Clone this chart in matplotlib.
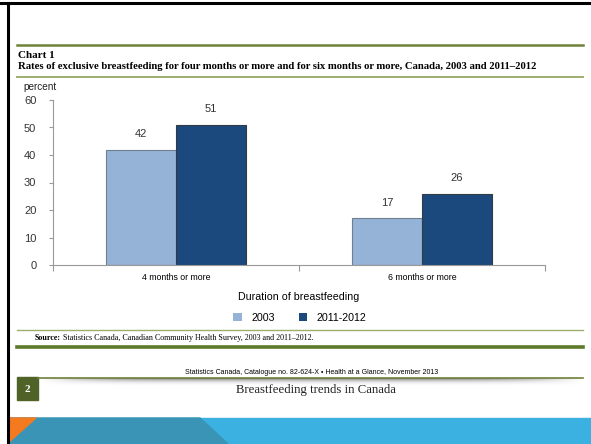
import numpy as np
import matplotlib
matplotlib.use("Agg")
from matplotlib import pyplot as plt
from matplotlib.lines import Line2D
from matplotlib.patches import Polygon, Rectangle

# chart data
categories = ["4 months or more", "6 months or more"]
series_names = ["2003", "2011-2012"]
values_2003 = [42, 17]
values_2011 = [51, 26]
y_ticks = [0, 10, 20, 30, 40, 50, 60]

light_blue = "#95B3D7"
dark_blue = "#1B497D"
green = "#6E8139"
green_light = "#9DAF6F"

W, H = 591, 444
fig = plt.figure(figsize=(W / 100, H / 100), dpi=100)


def fx(px):
    return px / W


def fy(py):
    return 1 - py / H


def hline(y, x0, x1, color, lw):
    fig.add_artist(Line2D([fx(x0), fx(x1)], [fy(y), fy(y)], color=color, lw=lw,
                          transform=fig.transFigure))


# slide frame
fig.add_artist(Line2D([0, 1], [fy(3.5), fy(3.5)], color="black", lw=2.2, transform=fig.transFigure))
fig.add_artist(Line2D([fx(8), fx(8)], [0, fy(3.5)], color="black", lw=2.2, transform=fig.transFigure))

# header
hline(45, 17, 583, green, 1.8)
fig.text(fx(18), fy(56), "Chart 1", family="Liberation Serif", weight="bold", fontsize=8, va="center")
fig.text(fx(18), fy(66.5), "Rates of exclusive breastfeeding for four months or more and for six months or more, "
         "Canada, 2003 and 2011\u20132012", family="Liberation Serif", weight="bold", fontsize=7.7, va="center")
hline(77, 17, 583, green_light, 1.4)
fig.text(fx(23), fy(87), "percent", family="Liberation Sans", fontsize=7.2, va="center", color="#222222")

# chart
ax = fig.add_axes([fx(53), fy(265), fx(545) - fx(53), fy(100) - fy(265)])
x = np.arange(len(categories))
bw = 0.285
b1 = ax.bar(x - bw / 2, values_2003, bw, color=light_blue, edgecolor="#6F7F8F", lw=0.8, label=series_names[0])
b2 = ax.bar(x + bw / 2, values_2011, bw, color=dark_blue, edgecolor="#333A44", lw=0.8, label=series_names[1])
for bars in (b1, b2):
    for r in bars:
        ax.annotate(f"{r.get_height():.0f}", (r.get_x() + r.get_width() / 2, r.get_height()),
                    xytext=(0, 7.5), textcoords="offset points", ha="center", va="bottom",
                    family="Liberation Sans", fontsize=8, color="#333333")

ax.set_xlim(-0.5, len(categories) - 0.5)
ax.set_ylim(0, 60)
ax.set_yticks(y_ticks)
ax.set_yticklabels([str(v) for v in y_ticks], family="Liberation Sans", fontsize=8, color="#333333")
ax.set_xticks(x)
ax.set_xticklabels(categories, family=["Liberation Sans Narrow", "Liberation Sans"], fontsize=6.3)
ax.set_xticks(np.arange(len(categories) + 1) - 0.5, minor=True)
ax.tick_params(axis="x", which="major", length=0, pad=6)
ax.tick_params(axis="x", which="minor", length=4, color="#999999", width=0.8)
ax.tick_params(axis="y", length=3, color="#999999", width=0.8, pad=9)
for s in ("top", "right"):
    ax.spines[s].set_visible(False)
for s in ("left", "bottom"):
    ax.spines[s].set_color("#999999")
    ax.spines[s].set_linewidth(0.8)
ax.set_xlabel("Duration of breastfeeding", family="Liberation Sans", fontsize=7.7, labelpad=7)

leg = ax.legend(loc="center", bbox_to_anchor=(fx(300), fy(318)), bbox_transform=fig.transFigure,
                ncol=2, frameon=False, handlelength=0.8, handleheight=0.8, columnspacing=2.2,
                handletextpad=0.9, prop={"family": "Liberation Sans", "size": 7.7})
for h in leg.legend_handles:
    h.set_edgecolor("none")

# source block
hline(330, 17, 583, green_light, 1.0)
renderer = fig.canvas.get_renderer()
src = fig.text(fx(35), fy(338), "Source:", family="Liberation Serif", weight="bold", fontsize=5.8, va="center")
bb = src.get_window_extent(renderer)
fig.text(bb.x1 / W + fx(2), fy(338), "Statistics Canada, Canadian Community Health Survey, 2003 and 2011\u20132012.",
         family="Liberation Serif", fontsize=5.8, va="center")
hline(346.5, 17, 583, "#5C7A2A", 2.6)

# page footer
fig.text(fx(312), fy(372), "Statistics Canada, Catalogue no. 82-624-X \u2022 Health at a Glance, November 2013",
         family=["Liberation Sans Narrow", "Liberation Sans"], fontsize=5, ha="center", va="center")
shade = fig.add_axes([fx(40), fy(386), fx(583) - fx(40), fy(378) - fy(386)])
gx = np.linspace(-1, 1, 300)
gy = np.linspace(0, 1, 20)[:, None]
grad = (1 - gx[None, :] ** 6) * (1 - gy) ** 1.5
shade.imshow(grad, cmap="Greys", vmin=0, vmax=1.4, aspect="auto", extent=(0, 1, 0, 1))
shade.axis("off")
hline(378, 38, 583, green, 1.2)
fig.add_artist(Rectangle((fx(17), fy(400)), fx(38) - fx(17), fy(377) - fy(400), color="#4F6228",
                         transform=fig.transFigure))
fig.text(fx(27.5), fy(389), "2", family="Liberation Serif", weight="bold", fontsize=8, color="white",
         ha="center", va="center")
fig.text(fx(316), fy(390), "Breastfeeding trends in Canada", family="Liberation Serif", fontsize=9.2,
         ha="center", va="center", color="#222222")

# bottom band
band = [
    ([(fx(9), fy(418)), (fx(591), fy(418)), (fx(591), fy(444)), (fx(9), fy(444))], "#3AB1E0"),
    ([(fx(9), fy(418)), (fx(200), fy(418)), (fx(228), fy(444)), (fx(9), fy(444))], "#3994B6"),
    ([(fx(9), fy(418)), (fx(36), fy(418)), (fx(9), fy(442))], "#F47A20"),
]
for pts, c in band:
    fig.add_artist(Polygon(pts, closed=True, color=c, transform=fig.transFigure))

fig.savefig("out.png", dpi=100)
